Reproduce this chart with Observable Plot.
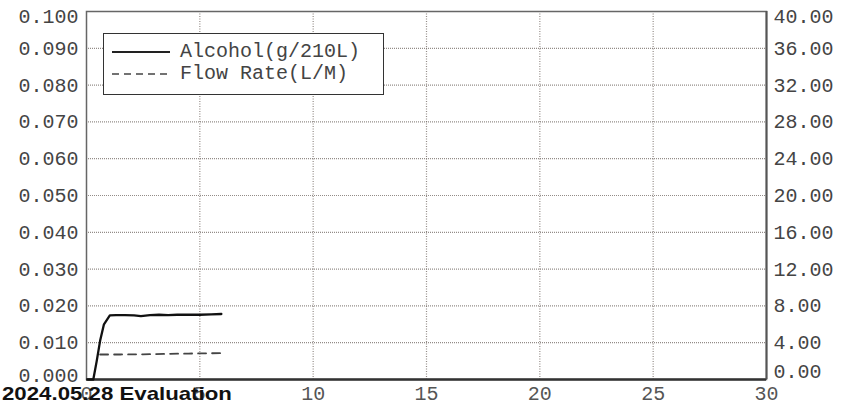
<!DOCTYPE html>
<html>
<head>
<meta charset="utf-8">
<script src="https://cdn.jsdelivr.net/npm/d3@7"></script>
<script src="https://cdn.jsdelivr.net/npm/@observablehq/plot@0.6"></script>
<style>
  body { margin: 0; background: #fff; }
  #wrap { position: relative; width: 848px; height: 404px; overflow: hidden; background: #fff; }
  #legend { position: absolute; left: 103px; top: 33px; width: 279px; height: 60px; border: 1.5px solid #333; background: #fff;
            font-family: "Liberation Mono", "DejaVu Sans Mono", monospace; font-size: 20px; color: #444; }
  .row { position: absolute; left: 0; display: flex; align-items: center; }
  .row svg { margin-left: 8px; margin-right: 10px; }
  #stamp { position: absolute; left: 2px; top: 383px; font-family: "Liberation Sans", Arial, sans-serif; font-weight: bold; font-size: 19px; color: #111;
           transform: scaleX(1.17); transform-origin: left top; white-space: nowrap; }
</style>
</head>
<body>
<div id="wrap"></div>
<script>
// Data
const alcoholTime = [0.05, 0.3, 0.45, 0.6, 0.77, 1.03, 1.3, 1.7, 2.1, 2.4, 2.8, 3.2, 3.6, 4.0, 4.5, 5.0, 5.5, 5.95];
const alcohol     = [0, 0, 0.005, 0.0105, 0.0150, 0.0174, 0.0175, 0.0175, 0.0174, 0.0172, 0.0175, 0.0176, 0.0175, 0.0176, 0.0176, 0.0176, 0.0177, 0.0178];
const flowTime = [0.6, 1.5, 2.5, 3.5, 4.5, 5.5, 5.95];
const flowRate = [2.72, 2.72, 2.74, 2.78, 2.82, 2.85, 2.86];
const xTicks = [0, 5, 10, 15, 20, 25, 30];
const yTicks = [0, 0.01, 0.02, 0.03, 0.04, 0.05, 0.06, 0.07, 0.08, 0.09, 0.1];
const legendLabels = ["Alcohol(g/210L)", "Flow Rate(L/M)"];
const stampText = "2024.05.28 Evaluation";

const flowToLeft = 0.1 / 40; // right axis 0..40 maps to left 0..0.1
const alcData = alcoholTime.map((t, i) => ({t, v: alcohol[i]}));
const flowData = flowTime.map((t, i) => ({t, v: flowRate[i] * flowToLeft}));

const font = "Liberation Mono, DejaVu Sans Mono, monospace";
const midY = yTicks.slice(1, -1);
const gridColor = "#6f6660";

const plot = Plot.plot({
  width: 848, height: 404,
  marginLeft: 86, marginRight: 82, marginTop: 11, marginBottom: 25,
  style: {fontFamily: font, fontSize: "20px", color: "#444", background: "#fff"},
  x: {domain: [0, 30]},
  y: {domain: [0, 0.1]},
  marks: [
    Plot.ruleY(midY, {stroke: gridColor, strokeOpacity: 0.75, strokeDasharray: "1,1", strokeWidth: 1.2}),
    Plot.ruleX(xTicks.slice(1, -1), {stroke: gridColor, strokeOpacity: 0.75, strokeDasharray: "1,1.5", strokeWidth: 1.2}),
    Plot.frame({stroke: "#666", strokeWidth: 1.5}),
    Plot.ruleY([0], {stroke: "#333", strokeWidth: 2.5}),
    Plot.ruleX([30], {stroke: "#555", strokeWidth: 2}),
    Plot.line(alcData, {x: "t", y: "v", stroke: "#111", strokeWidth: 2.3}),
    Plot.line(flowData, {x: "t", y: "v", stroke: "#444", strokeWidth: 1.8, strokeDasharray: "8,6"}),
    // left axis
    Plot.axisY(midY, {anchor: "left", tickSize: 0, tickPadding: 8, tickFormat: d => d.toFixed(3), label: null}),
    Plot.axisY([0.1], {anchor: "left", tickSize: 0, tickPadding: 8, tickFormat: d => d.toFixed(3), label: null, dy: 5}),
    Plot.axisY([0], {anchor: "left", tickSize: 0, tickPadding: 8, tickFormat: d => d.toFixed(3), label: null, dy: -4}),
    // right axis (flow rate scale)
    Plot.axisY(midY, {anchor: "right", tickSize: 0, tickPadding: 7, tickFormat: d => (d / flowToLeft).toFixed(2), label: null}),
    Plot.axisY([0.1], {anchor: "right", tickSize: 0, tickPadding: 7, tickFormat: d => (d / flowToLeft).toFixed(2), label: null, dy: 5}),
    Plot.axisY([0], {anchor: "right", tickSize: 0, tickPadding: 7, tickFormat: d => (d / flowToLeft).toFixed(2), label: null, dy: -8}),
    // x axis
    Plot.axisX(xTicks, {anchor: "bottom", tickSize: 0, tickPadding: 6, tickFormat: d => String(d), label: null, fill: "#555"})
  ]
});

const wrap = document.getElementById("wrap");
wrap.appendChild(plot);

const legend = document.createElement("div");
legend.id = "legend";
legend.innerHTML = `
  <div class="row" style="top:6px"><svg width="58" height="6"><line x1="0" x2="58" y1="3" y2="3" stroke="#222" stroke-width="2"/></svg><span>${legendLabels[0]}</span></div>
  <div class="row" style="top:28px"><svg width="58" height="6"><line x1="0" x2="58" y1="3" y2="3" stroke="#444" stroke-width="1.5" stroke-dasharray="7,5"/></svg><span>${legendLabels[1]}</span></div>`;
wrap.appendChild(legend);

const stamp = document.createElement("div");
stamp.id = "stamp";
stamp.textContent = stampText;
wrap.appendChild(stamp);
</script>
</body>
</html>
